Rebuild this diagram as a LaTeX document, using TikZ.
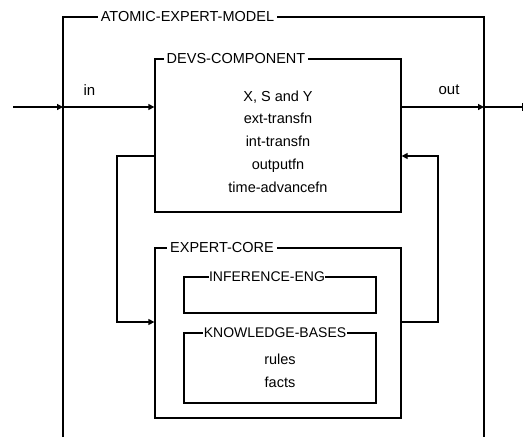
\documentclass[tikz,border=0pt]{standalone}
\usepackage{fontspec}
\setmainfont{Liberation Sans}
\usetikzlibrary{arrows.meta}
\begin{document}
\begin{tikzpicture}[x=1pt,y=-1pt,
  line width=1.3pt,
  box/.style={draw,rectangle,inner sep=0pt},
  ttl/.style={fill=white,inner xsep=3pt,inner ysep=1pt,font=\fontsize{14.5}{16}\selectfont},
  ttltight/.style={fill=white,inner xsep=0.5pt,inner ysep=1pt,font=\fontsize{14}{16}\selectfont},
  body/.style={align=center,font=\fontsize{14.5}{22.75}\selectfont,inner sep=0pt},
  lbl/.style={font=\fontsize{15}{17}\selectfont,inner sep=0pt},
  arr/.style={-{Triangle[length=6pt,width=6pt]}}]
\useasboundingbox (0,0) rectangle (524,437);
% outer (open) box
\coordinate (obl) at (63,437);
\coordinate (otl) at (63,17);
\coordinate (otr) at (484,17);
\coordinate (obr) at (484,437);
\draw (obl) -- (otl) -- (otr) -- (obr);
% inner boxes
\node[box,minimum width=246pt,minimum height=153pt] (devs) at (278,135.5) {};
\node[box,minimum width=246pt,minimum height=170pt] (core) at (278,333) {};
\node[box,minimum width=192pt,minimum height=36pt] (inf) at (280,295) {};
\node[box,minimum width=192pt,minimum height=70pt] (kb) at (280,368) {};
% titles
\node[ttl] (tatomic) at (187.5,17) {ATOMIC-EXPERT-MODEL};
\node[ttl] (tdevs) at (236,59) {DEVS-COMPONENT};
\node[ttl] (tcore) at (222,248) {EXPERT-CORE};
\node[ttltight] (tinf) at (267,277) {INFERENCE-ENG};
\node[ttltight] (tkb) at (275,333) {KNOWLEDGE-BASES};
% contents
\node[body] (devstext) at (278,141.5) {X, S and Y\\ext-transfn\\int-transfn\\outputfn\\time-advancefn};
\node[body] (kbtext) at (280,371) {rules\\facts};
\node[lbl] (lin) at (89.5,90) {in};
\node[lbl] (lout) at (449,90) {out};
% ports and connectors
\coordinate (start) at (13,107);
\coordinate (inL) at (63,107);
\coordinate (outR) at (484,107);
\coordinate (endR) at (523,107);
\draw[arr] (start) -- (inL);
\draw[arr] (inL) -- (inL -| devs.west);
\draw[arr] (outR -| devs.east) -- (outR);
\draw[-{Bar[width=8pt]}] (outR) -- (endR);
% feedback loops
\coordinate (fltop) at (117,156);
\coordinate (flbot) at (117,322);
\coordinate (frtop) at (438,156);
\coordinate (frbot) at (438,322);
\draw[arr] (devs.west |- fltop) -- (fltop) -- (flbot) -- (core.west |- flbot);
\draw[arr] (core.east |- frbot) -- (frbot) -- (frtop) -- (devs.east |- frtop);
\end{tikzpicture}
\end{document}
